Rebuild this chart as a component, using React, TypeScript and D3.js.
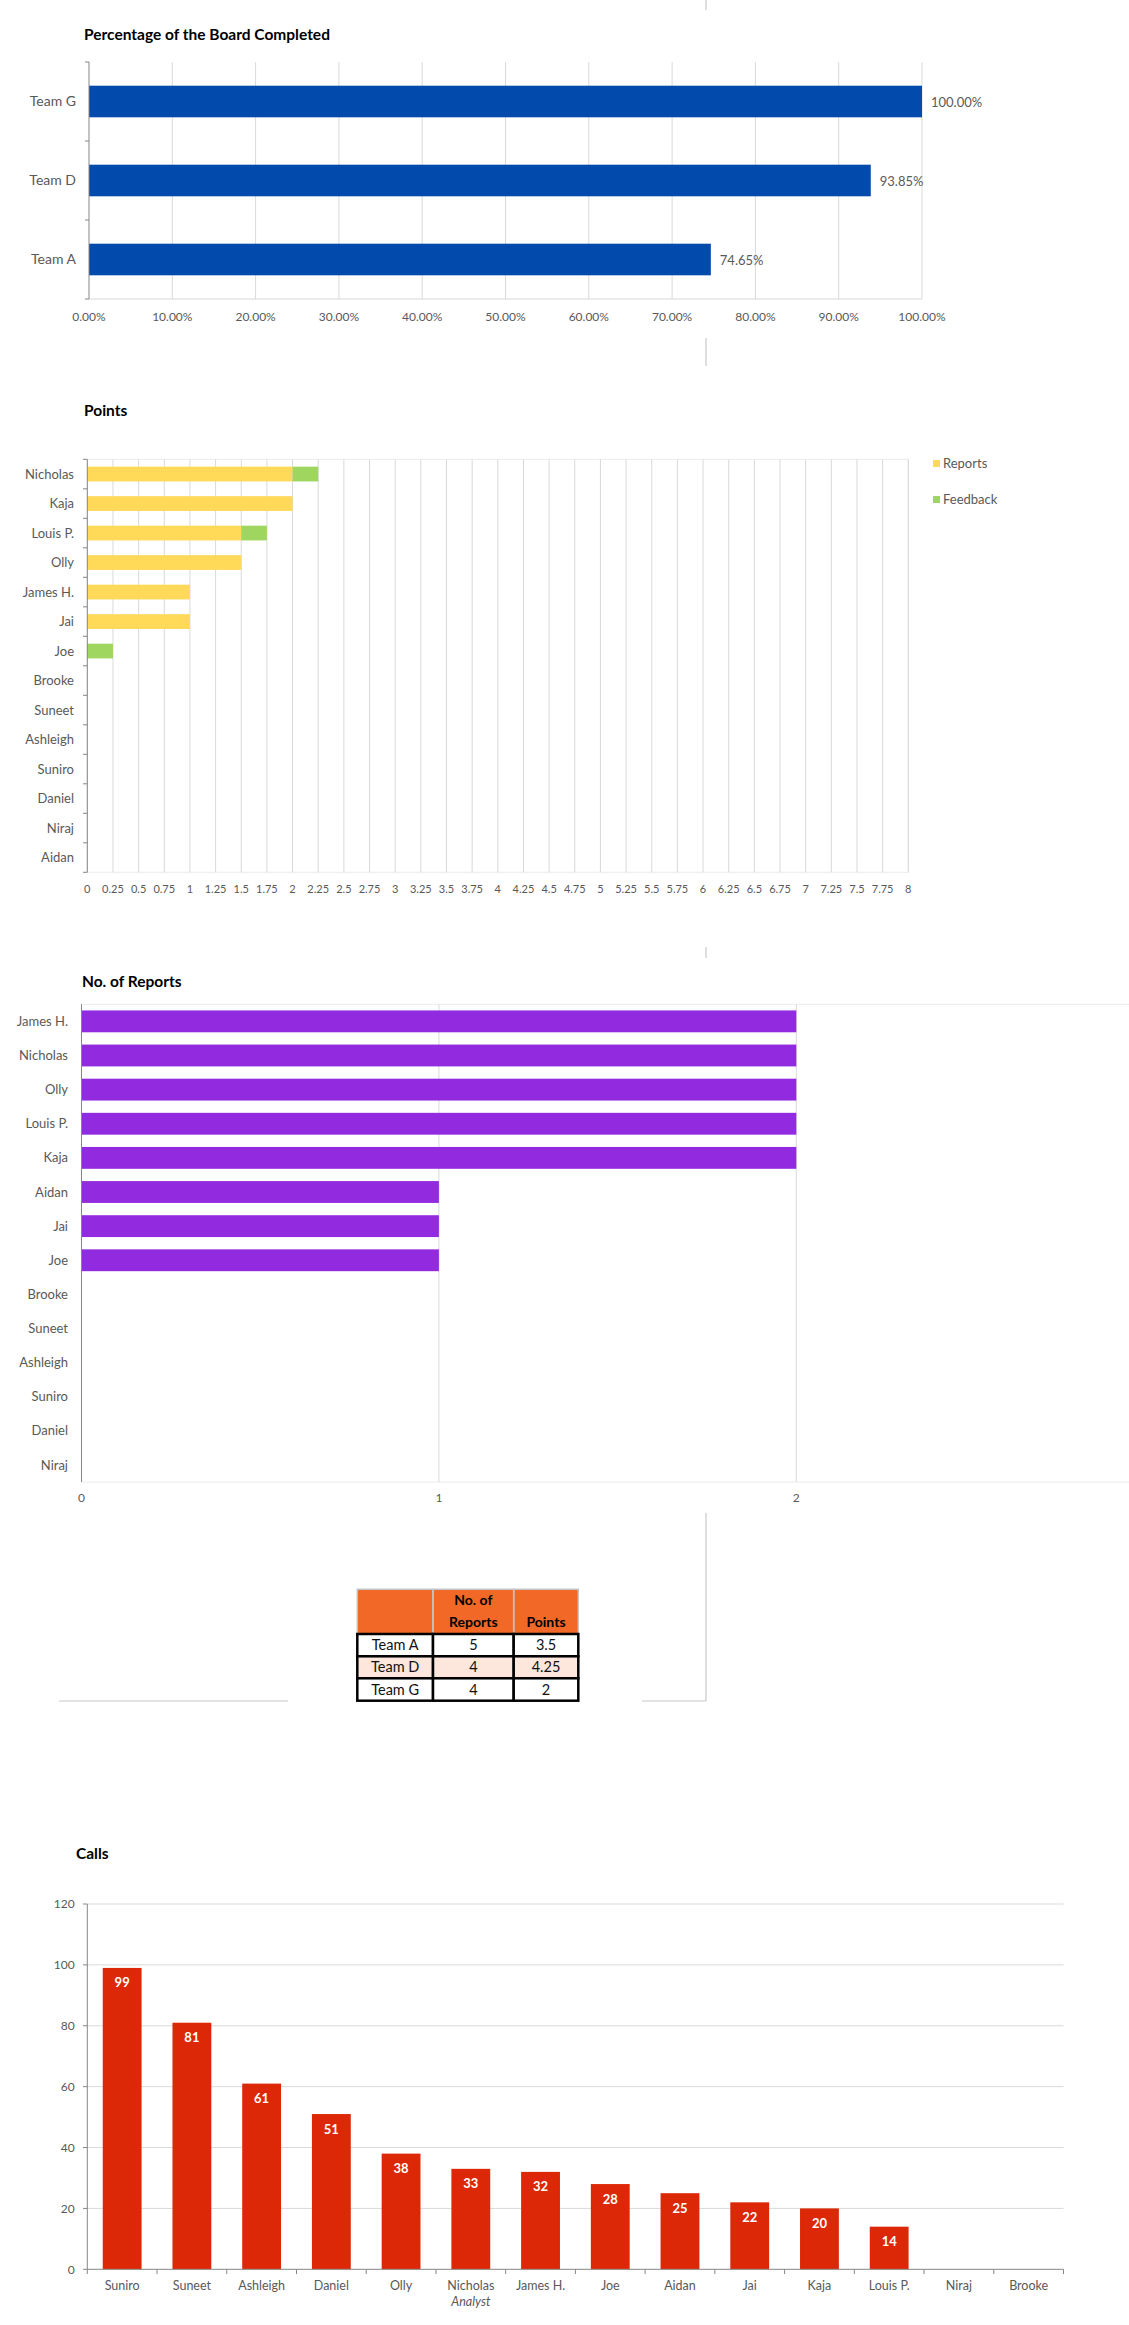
import React, { useEffect, useRef } from 'react'
import * as d3 from 'd3'

// chart 1: percentage of the board completed
const teams = ['Team G', 'Team D', 'Team A']
const completed = [1.0, 0.9385, 0.7465]

// chart 2: points (stacked)
const pointNames = ['Nicholas', 'Kaja', 'Louis P.', 'Olly', 'James H.', 'Jai', 'Joe', 'Brooke', 'Suneet', 'Ashleigh', 'Suniro', 'Daniel', 'Niraj', 'Aidan']
const reportPoints = [2, 2, 1.5, 1.5, 1, 1, 0, 0, 0, 0, 0, 0, 0, 0]
const feedbackPoints = [0.25, 0, 0.25, 0, 0, 0, 0.25, 0, 0, 0, 0, 0, 0, 0]
const pointSeries = ['Reports', 'Feedback']

// chart 3: number of reports
const reportNames = ['James H.', 'Nicholas', 'Olly', 'Louis P.', 'Kaja', 'Aidan', 'Jai', 'Joe', 'Brooke', 'Suneet', 'Ashleigh', 'Suniro', 'Daniel', 'Niraj']
const reportCounts = [2, 2, 2, 2, 2, 1, 1, 1, 0, 0, 0, 0, 0, 0]

// summary table
const tableTeams = ['Team A', 'Team D', 'Team G']
const tableReports = [5, 4, 4]
const tablePoints = [3.5, 4.25, 2]

// chart 4: calls
const callNames = ['Suniro', 'Suneet', 'Ashleigh', 'Daniel', 'Olly', 'Nicholas', 'James H.', 'Joe', 'Aidan', 'Jai', 'Kaja', 'Louis P.', 'Niraj', 'Brooke']
const calls = [99, 81, 61, 51, 38, 33, 32, 28, 25, 22, 20, 14, 0, 0]

const FONT = "Lato, 'Open Sans', sans-serif"
const AXIS = '#868686'
const GRID = '#d9d9d9'
const LABEL = '#595959'

export default function App() {
  const ref = useRef<SVGSVGElement>(null)

  useEffect(() => {
    const svg = d3.select(ref.current)
    svg.selectAll('*').remove()
    svg.attr('font-family', FONT)

    const title = (x: number, y: number, t: string) =>
      svg.append('text').attr('x', x).attr('y', y).attr('dy', '0.35em')
        .attr('font-size', 15.5).attr('font-weight', 700).attr('fill', '#000').text(t)

    // frame fragments
    const frame = svg.append('g').attr('stroke', '#c8c8c8').attr('stroke-width', 1.2)
    const vSegs = [[0, 10], [338, 366], [947, 958], [1513, 1701]]
    vSegs.forEach(([a, b]) => frame.append('line').attr('x1', 706).attr('x2', 706).attr('y1', a).attr('y2', b))
    frame.append('line').attr('x1', 59).attr('x2', 288).attr('y1', 1701).attr('y2', 1701)
    frame.append('line').attr('x1', 642).attr('x2', 706).attr('y1', 1701).attr('y2', 1701)

    // ---------- chart 1 ----------
    {
      title(84, 35, 'Percentage of the Board Completed')
      const x = d3.scaleLinear().domain([0, 1]).range([89, 922])
      const y = d3.scaleBand().domain(teams).range([62, 299]).paddingInner(0.6).paddingOuter(0.3)
      const g = svg.append('g')
      const ticks = d3.range(0, 11).map(i => i / 10)
      g.selectAll('.grid').data(ticks.slice(1)).enter().append('line')
        .attr('x1', d => x(d)).attr('x2', d => x(d)).attr('y1', 62).attr('y2', 299)
        .attr('stroke', GRID)
      g.append('line').attr('x1', 89).attr('x2', 922).attr('y1', 299).attr('y2', 299).attr('stroke', GRID)
      g.selectAll('.lab').data(ticks).enter().append('text')
        .attr('x', d => x(d)).attr('y', 317).attr('dy', '0.35em').attr('text-anchor', 'middle')
        .attr('font-size', 12).attr('fill', LABEL).text(d => d3.format('.2%')(d))
      g.selectAll('.bar').data(teams).enter().append('rect')
        .attr('x', x(0)).attr('y', d => y(d)!).attr('height', y.bandwidth())
        .attr('width', (d, i) => x(completed[i]) - x(0)).attr('fill', '#034aad')
      g.selectAll('.val').data(teams).enter().append('text')
        .attr('x', (d, i) => x(completed[i]) + 9).attr('y', d => y(d)! + y.bandwidth() / 2 + 1).attr('dy', '0.35em')
        .attr('font-size', 13).attr('fill', LABEL).text((d, i) => d3.format('.2%')(completed[i]))
      g.selectAll('.cat').data(teams).enter().append('text')
        .attr('x', 76).attr('y', d => y(d)! + y.bandwidth() / 2).attr('dy', '0.35em').attr('text-anchor', 'end')
        .attr('font-size', 14).attr('fill', LABEL).text(d => d)
      g.append('line').attr('x1', 89).attr('x2', 89).attr('y1', 62).attr('y2', 299).attr('stroke', AXIS)
      const bounds = [0, 1, 2, 3].map(i => 62 + i * y.step())
      g.selectAll('.tk').data(bounds).enter().append('line')
        .attr('x1', 85).attr('x2', 89).attr('y1', d => d).attr('y2', d => d).attr('stroke', AXIS)
    }

    // ---------- chart 2 ----------
    {
      title(84, 411, 'Points')
      const x = d3.scaleLinear().domain([0, 8]).range([87.3, 908.3])
      const y = d3.scaleBand().domain(pointNames).range([459.3, 872.3]).paddingInner(0.5).paddingOuter(0.25)
      const g = svg.append('g')
      const ticks = d3.range(0, 33).map(i => i * 0.25)
      g.append('rect').attr('x', 87.3).attr('y', 459.3).attr('width', 821).attr('height', 413)
        .attr('fill', 'none').attr('stroke', '#ececec')
      g.selectAll('.grid').data(ticks.slice(1)).enter().append('line')
        .attr('x1', d => x(d)).attr('x2', d => x(d)).attr('y1', 459.3).attr('y2', 872.3)
        .attr('stroke', GRID)
      g.selectAll('.lab').data(ticks).enter().append('text')
        .attr('x', d => x(d)).attr('y', 889).attr('dy', '0.35em').attr('text-anchor', 'middle')
        .attr('font-size', 11).attr('fill', LABEL).text(d => String(d))
      const rows = pointNames.map((n, i) => ({ name: n, Reports: reportPoints[i], Feedback: feedbackPoints[i] }))
      const stacked = d3.stack<any>().keys(pointSeries)(rows)
      const colors = ['#ffd957', '#9fd660']
      stacked.forEach((s, si) => {
        g.selectAll('.s' + si).data(s).enter().append('rect')
          .attr('x', d => x(d[0])).attr('width', d => x(d[1]) - x(d[0]))
          .attr('y', d => y(d.data.name)!).attr('height', y.bandwidth())
          .attr('fill', colors[si])
      })
      g.selectAll('.cat').data(pointNames).enter().append('text')
        .attr('x', 74).attr('y', d => y(d)! + y.bandwidth() / 2).attr('dy', '0.35em').attr('text-anchor', 'end')
        .attr('font-size', 13).attr('fill', LABEL).text(d => d)
      g.append('line').attr('x1', 87.3).attr('x2', 87.3).attr('y1', 459.3).attr('y2', 872.3).attr('stroke', AXIS)
      const bounds = d3.range(0, 15).map(i => 459.3 + i * y.step())
      g.selectAll('.tk').data(bounds).enter().append('line')
        .attr('x1', 83).attr('x2', 87.3).attr('y1', d => d).attr('y2', d => d).attr('stroke', AXIS)
      pointSeries.forEach((s, i) => {
        g.append('rect').attr('x', 933).attr('y', 460 + i * 36).attr('width', 7).attr('height', 7).attr('fill', colors[i])
        g.append('text').attr('x', 943).attr('y', 463.5 + i * 36).attr('dy', '0.35em')
          .attr('font-size', 13).attr('fill', LABEL).text(s)
      })
    }

    // ---------- chart 3 ----------
    {
      title(82, 982, 'No. of Reports')
      const x = d3.scaleLinear().domain([0, 3]).range([81.5, 1153.7])
      const y = d3.scaleBand().domain(reportNames).range([1004.3, 1482.1]).paddingInner(0.36).paddingOuter(0.18)
      const g = svg.append('g')
      g.append('line').attr('x1', 81.5).attr('x2', 1129).attr('y1', 1004.3).attr('y2', 1004.3).attr('stroke', '#ececec')
      g.append('line').attr('x1', 81.5).attr('x2', 1129).attr('y1', 1482.1).attr('y2', 1482.1).attr('stroke', '#ececec')
      g.selectAll('.grid').data([1, 2]).enter().append('line')
        .attr('x1', d => x(d)).attr('x2', d => x(d)).attr('y1', 1004.3).attr('y2', 1482.1).attr('stroke', GRID)
      g.selectAll('.lab').data([0, 1, 2]).enter().append('text')
        .attr('x', d => x(d)).attr('y', 1498).attr('dy', '0.35em').attr('text-anchor', 'middle')
        .attr('font-size', 12).attr('fill', LABEL).text(d => String(d))
      g.selectAll('.bar').data(reportNames).enter().append('rect')
        .attr('x', x(0)).attr('y', d => y(d)!).attr('height', y.bandwidth())
        .attr('width', (d, i) => x(reportCounts[i]) - x(0)).attr('fill', '#922ae0')
      g.selectAll('.cat').data(reportNames).enter().append('text')
        .attr('x', 68).attr('y', d => y(d)! + y.bandwidth() / 2).attr('dy', '0.35em').attr('text-anchor', 'end')
        .attr('font-size', 13).attr('fill', LABEL).text(d => d)
      g.append('line').attr('x1', 81.5).attr('x2', 81.5).attr('y1', 1004.3).attr('y2', 1482.1).attr('stroke', AXIS)
    }

    // ---------- table ----------
    {
      const cols = [357.3, 433, 513.7, 578.3]
      const rowsY = [1634, 1656.3, 1678.3, 1700.7]
      const g = svg.append('g')
      g.append('rect').attr('x', cols[0]).attr('y', 1589.3).attr('width', cols[3] - cols[0]).attr('height', 1634 - 1589.3)
        .attr('fill', '#f26826')
      for (let c = 0; c < 3; c++) {
        g.append('rect').attr('x', cols[c]).attr('y', 1589.3).attr('width', cols[c + 1] - cols[c]).attr('height', 1634 - 1589.3)
          .attr('fill', 'none').attr('stroke', '#c4c4c4').attr('stroke-width', 1.5)
      }
      const cx = (c: number) => (cols[c] + cols[c + 1]) / 2
      g.append('text').attr('x', cx(1)).attr('y', 1600).attr('dy', '0.35em').attr('text-anchor', 'middle')
        .attr('font-size', 14).attr('font-weight', 700).text('No. of')
      g.append('text').attr('x', cx(1)).attr('y', 1622).attr('dy', '0.35em').attr('text-anchor', 'middle')
        .attr('font-size', 14).attr('font-weight', 700).text('Reports')
      g.append('text').attr('x', cx(2)).attr('y', 1622).attr('dy', '0.35em').attr('text-anchor', 'middle')
        .attr('font-size', 14).attr('font-weight', 700).text('Points')
      tableTeams.forEach((t, r) => {
        const vals = [t, String(tableReports[r]), String(tablePoints[r])]
        vals.forEach((v, c) => {
          g.append('rect').attr('x', cols[c]).attr('y', rowsY[r]).attr('width', cols[c + 1] - cols[c])
            .attr('height', rowsY[r + 1] - rowsY[r]).attr('fill', r === 1 ? '#fde6dc' : '#fff')
            .attr('stroke', '#000').attr('stroke-width', 2.5)
          g.append('text').attr('x', cx(c)).attr('y', (rowsY[r] + rowsY[r + 1]) / 2).attr('dy', '0.35em')
            .attr('text-anchor', 'middle').attr('font-size', 14.5).attr('fill', '#111').text(v)
        })
      })
    }

    // ---------- chart 4 ----------
    {
      title(76, 1854, 'Calls')
      const x = d3.scaleBand().domain(callNames).range([87.3, 1063.5]).paddingInner(0.443).paddingOuter(0.2215)
      const y = d3.scaleLinear().domain([0, 120]).range([2269.3, 1904])
      const g = svg.append('g')
      const ticks = d3.range(0, 121, 20)
      g.selectAll('.grid').data(ticks.slice(1)).enter().append('line')
        .attr('x1', 87.3).attr('x2', 1063.5).attr('y1', d => y(d)).attr('y2', d => y(d)).attr('stroke', GRID)
      g.selectAll('.lab').data(ticks).enter().append('text')
        .attr('x', 74.7).attr('y', d => y(d)).attr('dy', '0.35em').attr('text-anchor', 'end')
        .attr('font-size', 12).attr('fill', LABEL).text(d => String(d))
      g.selectAll('.tk').data(ticks).enter().append('line')
        .attr('x1', 83).attr('x2', 87.3).attr('y1', d => y(d)).attr('y2', d => y(d)).attr('stroke', AXIS)
      g.selectAll('.bar').data(callNames).enter().append('rect')
        .attr('x', d => x(d)!).attr('width', x.bandwidth())
        .attr('y', (d, i) => y(calls[i])).attr('height', (d, i) => y(0) - y(calls[i]))
        .attr('fill', '#dc2806')
      g.selectAll('.val').data(callNames.filter((d, i) => calls[i] > 0)).enter().append('text')
        .attr('x', d => x(d)! + x.bandwidth() / 2).attr('y', (d, i) => y(calls[i]) + 15).attr('dy', '0.35em')
        .attr('text-anchor', 'middle').attr('font-size', 13).attr('font-weight', 700).attr('fill', '#fff')
        .text((d, i) => String(calls[i]))
      g.selectAll('.cat').data(callNames).enter().append('text')
        .attr('x', d => x(d)! + x.bandwidth() / 2).attr('y', 2286).attr('dy', '0.35em').attr('text-anchor', 'middle')
        .attr('font-size', 12.5).attr('fill', LABEL).text(d => d)
      g.append('text').attr('x', x('Nicholas')! + x.bandwidth() / 2).attr('y', 2302).attr('dy', '0.35em')
        .attr('text-anchor', 'middle').attr('font-size', 12.5).attr('font-style', 'italic').attr('fill', LABEL).text('Analyst')
      g.append('line').attr('x1', 87.3).attr('x2', 87.3).attr('y1', 1904).attr('y2', 2269.3).attr('stroke', AXIS)
      g.append('line').attr('x1', 87.3).attr('x2', 1063.5).attr('y1', 2269.3).attr('y2', 2269.3).attr('stroke', AXIS)
      const bounds = d3.range(0, 15).map(i => 87.3 + i * x.step())
      g.selectAll('.xtk').data(bounds).enter().append('line')
        .attr('x1', d => d).attr('x2', d => d).attr('y1', 2269.3).attr('y2', 2274).attr('stroke', AXIS)
    }
  }, [])

  return (
    <div style={{ position: 'absolute', left: 0, top: 0, width: 1129, height: 2325, overflow: 'hidden', background: '#fff' }}>
      <svg ref={ref} width={1129} height={2325}></svg>
    </div>
  )
}
